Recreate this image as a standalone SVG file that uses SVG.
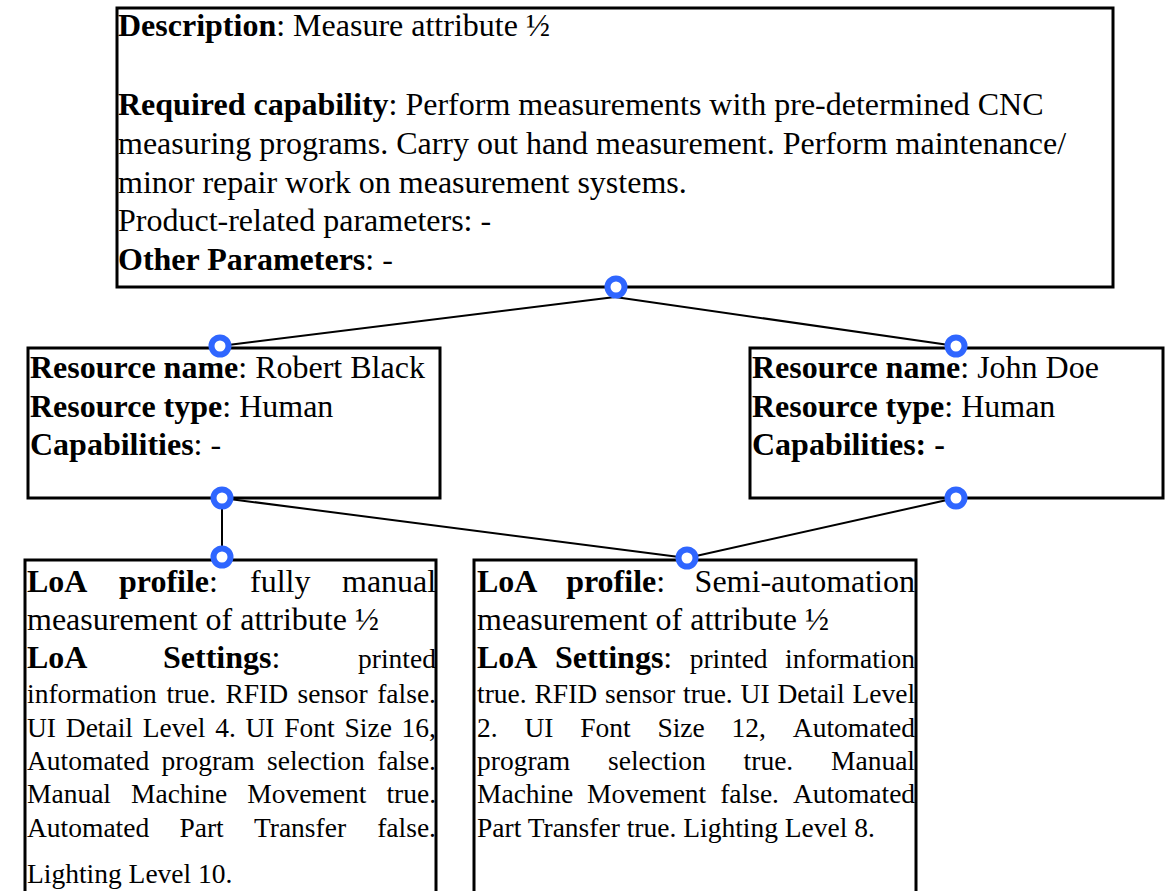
<svg xmlns="http://www.w3.org/2000/svg" width="1171" height="891" viewBox="0 0 1171 891">
<style>
.box{fill:#fff;stroke:#000;stroke-width:3}
text{font-family:"Liberation Serif","Times New Roman",serif;fill:#000}
.t{font-size:32px}
.s{font-size:27.5px}
.b{font-weight:bold}
.con{stroke:#000;stroke-width:2;fill:none}
.port{fill:#fff;stroke:#2f66ff;stroke-width:6}
</style>
<g id="node-description">
<rect class="box" x="117" y="8" width="996" height="279"/>
<text class="t" x="118" y="36"><tspan class="b">Description</tspan>: Measure attribute ½</text>
<text class="t" x="118" y="115"><tspan class="b">Required capability</tspan>: Perform measurements with pre-determined CNC</text>
<text class="t" x="118" y="154">measuring programs. Carry out hand measurement. Perform maintenance/</text>
<text class="t" x="118" y="193">minor repair work on measurement systems.</text>
<text class="t" x="118" y="231">Product-related parameters: -</text>
<text class="t" x="118" y="270"><tspan class="b">Other Parameters</tspan>: -</text>
</g>
<g id="node-robert">
<rect class="box" x="28" y="348" width="412" height="150"/>
<text class="t" x="30" y="378"><tspan class="b">Resource name</tspan>: Robert Black</text>
<text class="t" x="30" y="417"><tspan class="b">Resource type</tspan>: Human</text>
<text class="t" x="30" y="455"><tspan class="b">Capabilities</tspan>: -</text>
</g>
<g id="node-john">
<rect class="box" x="750" y="348" width="413" height="150"/>
<text class="t" x="752" y="378"><tspan class="b">Resource name</tspan>: John Doe</text>
<text class="t" x="752" y="417"><tspan class="b">Resource type</tspan>: Human</text>
<text class="t b" x="752" y="455">Capabilities: -</text>
</g>
<g id="node-loa-manual">
<rect class="box" x="25" y="560" width="411" height="345"/>
<text class="t" y="592"><tspan class="b" x="27">LoA</tspan><tspan class="b" x="119">profile</tspan><tspan>:</tspan><tspan x="250">fully</tspan><tspan x="342">manual</tspan></text>
<text class="t" x="27" y="630">measurement of attribute ½</text>
<text class="t" y="668"><tspan class="b" x="27">LoA</tspan><tspan class="b" x="163">Settings</tspan><tspan>:</tspan><tspan class="s" x="358">printed</tspan></text>
<text class="s" y="703"><tspan x="27">information</tspan><tspan x="166.4">true.</tspan><tspan x="225.4">RFID</tspan><tspan x="297.5">sensor</tspan><tspan x="377.2">false.</tspan></text>
<text class="s" y="737"><tspan x="27">UI</tspan><tspan x="65.8">Detail</tspan><tspan x="142.8">Level</tspan><tspan x="215.2">4.</tspan><tspan x="245.5">UI</tspan><tspan x="284.3">Font</tspan><tspan x="344.5">Size</tspan><tspan x="401.6">16,</tspan></text>
<text class="s" y="770"><tspan x="27">Automated</tspan><tspan x="161.5">program</tspan><tspan x="267">selection</tspan><tspan x="377.2">false.</tspan></text>
<text class="s" y="803"><tspan x="27">Manual</tspan><tspan x="131">Machine</tspan><tspan x="247.2">Movement</tspan><tspan x="386.4">true.</tspan></text>
<text class="s" y="837"><tspan x="27">Automated</tspan><tspan x="179.4">Part</tspan><tspan x="253.9">Transfer</tspan><tspan x="377.2">false.</tspan></text>
<text class="s" x="27" y="883">Lighting Level 10.</text>
</g>
<g id="node-loa-semi">
<rect class="box" x="474" y="560" width="442" height="345"/>
<text class="t" y="592"><tspan class="b" x="477">LoA</tspan><tspan class="b" x="566.2">profile</tspan><tspan>:</tspan><tspan x="694.6">Semi-automation</tspan></text>
<text class="t" x="477" y="630">measurement of attribute ½</text>
<text class="t" y="668"><tspan class="b" x="477">LoA</tspan><tspan class="b" x="554.9">Settings</tspan><tspan>:</tspan><tspan class="s" x="689.7">printed</tspan><tspan class="s" x="785.1">information</tspan></text>
<text class="s" y="703"><tspan x="477">true.</tspan><tspan x="534.5">RFID</tspan><tspan x="605">sensor</tspan><tspan x="683.1">true.</tspan><tspan x="740.6">UI</tspan><tspan x="777.4">Detail</tspan><tspan x="852.5">Level</tspan></text>
<text class="s" y="737"><tspan x="477">2.</tspan><tspan x="524.4">UI</tspan><tspan x="580.2">Font</tspan><tspan x="657.4">Size</tspan><tspan x="731.6">12,</tspan><tspan x="792.8">Automated</tspan></text>
<text class="s" y="770"><tspan x="477">program</tspan><tspan x="608">selection</tspan><tspan x="743.6">true.</tspan><tspan x="831">Manual</tspan></text>
<text class="s" y="803"><tspan x="477">Machine</tspan><tspan x="587.1">Movement</tspan><tspan x="720.2">false.</tspan><tspan x="792.9">Automated</tspan></text>
<text class="s" x="477" y="837">Part Transfer true. Lighting Level 8.</text>
</g>
<g id="connectors">
<line class="con" x1="615" y1="297" x2="220" y2="346"/>
<line class="con" x1="615" y1="297" x2="956" y2="346"/>
<line class="con" x1="222" y1="498" x2="222" y2="557"/>
<line class="con" x1="222" y1="498" x2="687" y2="558"/>
<line class="con" x1="956" y1="498" x2="687" y2="558"/>
<circle class="port" cx="616" cy="287" r="8.5"/>
<circle class="port" cx="220" cy="346" r="8.5"/>
<circle class="port" cx="956" cy="346" r="8.5"/>
<circle class="port" cx="222" cy="498" r="8.5"/>
<circle class="port" cx="956" cy="498" r="8.5"/>
<circle class="port" cx="222" cy="557" r="8.5"/>
<circle class="port" cx="687" cy="558" r="8.5"/>
</g>
</svg>
